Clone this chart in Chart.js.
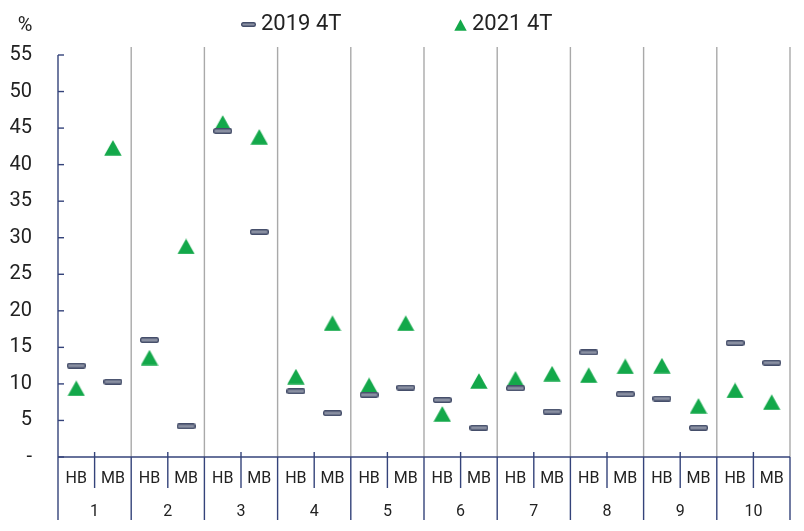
<!DOCTYPE html>
<html>
<head>
<meta charset="utf-8">
<script src="https://cdn.jsdelivr.net/npm/chart.js@4.4.0/dist/chart.umd.min.js"></script>
<style>
    html, body { margin: 0; padding: 0; background: #fff; }
    #wrap { width: 804px; height: 531px; }
</style>
</head>
<body>
<div id="wrap"><canvas id="chart" width="804" height="531"></canvas></div>
<script>
(function () {
    'use strict';

    // Data.
    var groups = ['1', '2', '3', '4', '5', '6', '7', '8', '9', '10'];
    var subLabels = ['HB', 'MB'];
    var seriesNames = ['2019 4T', '2021 4T'];
    var values2019 = [12.5, 10.3, 16.0, 4.2, 44.6, 30.8, 9.0, 6.0, 8.5, 9.5,
                      7.8, 4.0, 9.4, 6.2, 14.3, 8.6, 8.0, 4.0, 15.6, 12.9];
    var values2021 = [9.4, 42.3, 13.6, 28.8, 45.7, 43.8, 11.0, 18.3, 9.8, 18.3,
                      5.9, 10.4, 10.7, 11.4, 11.2, 12.4, 12.5, 7.0, 9.1, 7.5];
    var yMax = 55;
    var yStep = 5;

    var NAVY = '#34437a';
    var GRID = '#a9a9a9';
    var GREEN = '#13a84a';
    var FONT = 'Roboto, "Noto Sans", sans-serif';

    // Category labels: HB, MB for each group.
    var categories = [];
    groups.forEach(function () {
        subLabels.forEach(function (s) { categories.push(s); });
    });

    /**
     * Small flat dash used for the 2019 series.
     */
    function makeDash(w, h) {
        var c = document.createElement('canvas');
        c.width = w; c.height = h;
        var g = c.getContext('2d');
        g.fillStyle = '#8a90a2';
        g.strokeStyle = '#454e6a';
        g.lineWidth = 1.4;
        g.beginPath();
        g.roundRect(0.7, 0.7, w - 1.4, h - 1.4, 1.5);
        g.fill();
        g.stroke();
        return c;
    }

    /**
     * Triangle centred on its bounding box, used for the 2021 series.
     */
    function makeTriangle(w, h) {
        var c = document.createElement('canvas');
        c.width = w; c.height = h;
        var g = c.getContext('2d');
        g.fillStyle = GREEN;
        g.beginPath();
        g.moveTo(w / 2, 0.3);
        g.lineTo(w - 0.3, h - 0.3);
        g.lineTo(0.3, h - 0.3);
        g.closePath();
        g.fill();
        return c;
    }

    var dashImg = makeDash(19, 6);
    var triImg = makeTriangle(18, 16);
    var dashLegend = makeDash(15, 5);
    var triLegend = makeTriangle(13, 12);

    var framePlugin = {
        id: 'frame',
        beforeDatasetsDraw: function (chart) {
            var ctx = chart.ctx;
            var a = chart.chartArea;
            var y = chart.scales.y;
            var x2 = chart.scales.x2;
            var gw = (a.right - a.left) / groups.length;
            var k;

            ctx.save();
            ctx.lineWidth = 1.4;

            // Gray separators between groups inside the plot.
            ctx.strokeStyle = GRID;
            for (k = 1; k <= groups.length; k++) {
                var gx = a.left + k * gw;
                ctx.beginPath();
                ctx.moveTo(gx, 47);
                ctx.lineTo(gx, a.bottom);
                ctx.stroke();
            }

            ctx.strokeStyle = NAVY;
            // Y axis line and inner ticks.
            ctx.beginPath();
            ctx.moveTo(a.left, a.top);
            ctx.lineTo(a.left, a.bottom);
            ctx.stroke();
            for (var v = 0; v <= yMax; v += yStep) {
                var py = y.getPixelForValue(v);
                ctx.beginPath();
                ctx.moveTo(a.left, py);
                ctx.lineTo(a.left + 6, py);
                ctx.stroke();
            }

            // X axis line.
            ctx.beginPath();
            ctx.moveTo(a.left, a.bottom);
            ctx.lineTo(a.right, a.bottom);
            ctx.stroke();

            // Group separators below the axis.
            for (k = 0; k <= groups.length; k++) {
                var sx = a.left + k * gw;
                ctx.beginPath();
                ctx.moveTo(sx, a.bottom);
                ctx.lineTo(sx, 520);
                ctx.stroke();
            }

            // HB / MB separators.
            for (k = 0; k < groups.length; k++) {
                var cx = x2.getPixelForValue(k);
                ctx.beginPath();
                ctx.moveTo(cx, a.bottom - 5);
                ctx.lineTo(cx, 488);
                ctx.stroke();
            }
            ctx.restore();
        },
        afterDraw: function (chart) {
            var ctx = chart.ctx;
            ctx.save();
            ctx.fillStyle = '#222';
            ctx.textBaseline = 'middle';

            // Unit label.
            ctx.font = '20px ' + FONT;
            ctx.textAlign = 'center';
            ctx.fillText('%', 25, 26);

            // Legend.
            ctx.font = '22px ' + FONT;
            ctx.textAlign = 'left';
            ctx.drawImage(dashLegend, 241, 22);
            ctx.fillText(seriesNames[0], 261, 24);
            ctx.drawImage(triLegend, 454, 19);
            ctx.fillText(seriesNames[1], 472, 24);
            ctx.restore();
        }
    };

    new Chart(document.getElementById('chart').getContext('2d'), {
        type: 'line',
        data: {
            labels: categories,
            datasets: [{
                label: seriesNames[0],
                data: values2019,
                showLine: false,
                pointStyle: dashImg,
                pointRadius: 9,
                xAxisID: 'x',
                yAxisID: 'y'
            }, {
                label: seriesNames[1],
                data: values2021,
                showLine: false,
                pointStyle: triImg,
                pointRadius: 9,
                xAxisID: 'x',
                yAxisID: 'y'
            }]
        },
        options: {
            responsive: false,
            animation: false,
            devicePixelRatio: 1,
            layout: {
                padding: { top: 55, right: 14, left: 0, bottom: 0 }
            },
            plugins: {
                legend: { display: false },
                tooltip: { enabled: false }
            },
            scales: {
                x: {
                    type: 'category',
                    labels: categories,
                    offset: true,
                    weight: 0,
                    grid: { display: false, drawTicks: false },
                    border: { display: false },
                    ticks: {
                        color: '#222',
                        font: { size: 16, family: FONT },
                        padding: 12,
                        autoSkip: false,
                        maxRotation: 0
                    },
                    afterFit: function (s) { s.height = 40; }
                },
                x2: {
                    type: 'category',
                    labels: groups,
                    position: 'bottom',
                    offset: true,
                    weight: 1,
                    grid: { display: false, drawTicks: false },
                    border: { display: false },
                    ticks: {
                        color: '#222',
                        font: { size: 16, family: FONT },
                        padding: 5,
                        autoSkip: false,
                        maxRotation: 0
                    },
                    afterFit: function (s) { s.height = 34; }
                },
                y: {
                    min: 0,
                    max: yMax,
                    grid: { display: false, drawTicks: false },
                    border: { display: false },
                    ticks: {
                        stepSize: yStep,
                        color: '#222',
                        font: { size: 20, family: FONT },
                        padding: 26,
                        crossAlign: 'near',
                        callback: function (value) {
                            return value === 0 ? '-' : value;
                        }
                    },
                    afterFit: function (s) { s.width = 58; }
                }
            }
        },
        plugins: [framePlugin]
    });
})();
</script>
</body>
</html>
